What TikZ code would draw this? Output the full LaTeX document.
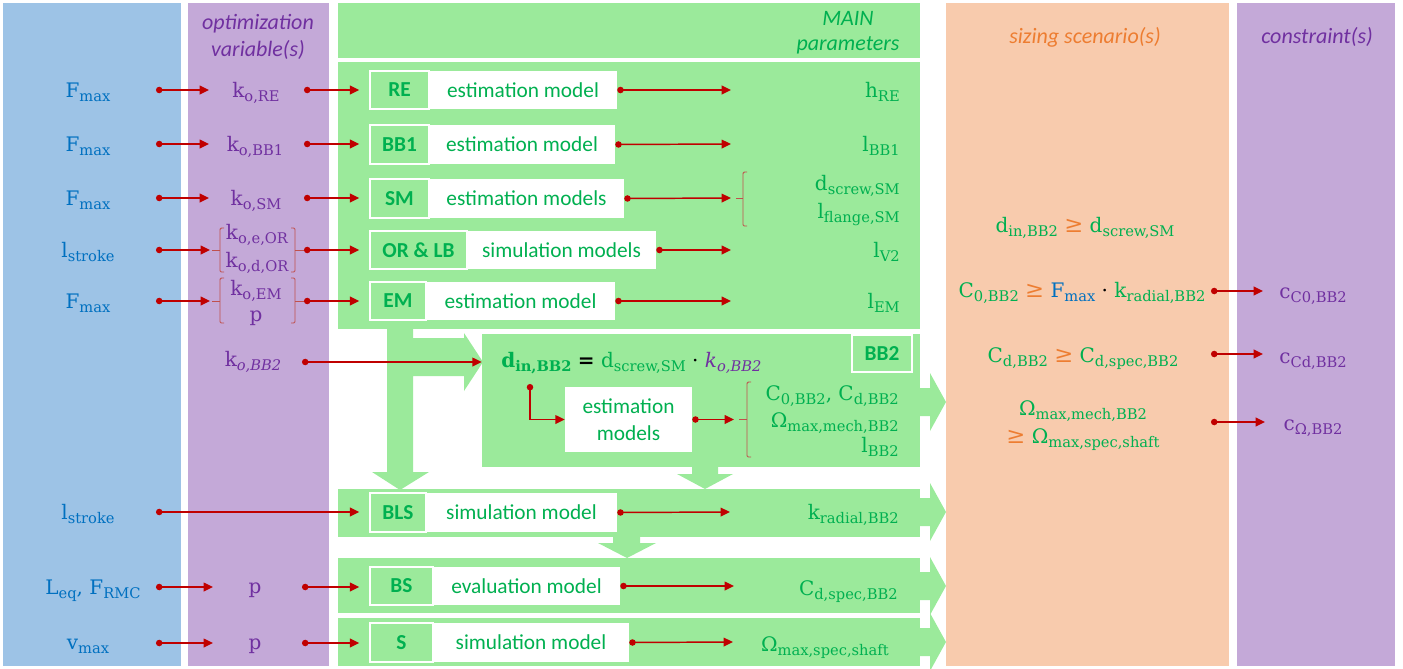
\documentclass[tikz,border=0pt]{standalone}
\usepackage{fontspec}
\setmainfont{DejaVu Serif}
\newfontfamily\carlito{Carlito}
\usetikzlibrary{arrows.meta,fit}

\definecolor{bgblue}{HTML}{9DC3E6}
\definecolor{bgpurple}{HTML}{C4A9D8}
\definecolor{bggreen}{HTML}{9BEA9B}
\definecolor{bgorange}{HTML}{F8CBAD}
\definecolor{tblue}{HTML}{0070C0}
\definecolor{tpurple}{HTML}{7030A0}
\definecolor{tgreen}{HTML}{00B050}
\definecolor{torange}{HTML}{ED7D31}
\definecolor{cred}{HTML}{C00000}
\definecolor{cbrack}{HTML}{C0504D}

% lowered subscript at three quarters of the body size
\newcommand\sub[1]{\raisebox{-3.4pt}{\fontsize{11}{13}\selectfont #1}}
% variable with upright subscript
\newcommand\vs[2]{#1\sub{#2}}
\newcommand\gq{\textcolor{torange}{\fontsize{17}{18}\selectfont ≥}}

% model row: green label box + white text box
% #1 name, #2 x-left, #3 y-top, #4 x-split, #5 x-right, #6 y-bottom, #7 label, #8 text
\newcommand\modelrow[8]{%
  \node[wbox, fit={(#4,#3)(#5,#6)}] (#1t) {};
  \node[wtext] (#1tx) at (#1t.center) {#8};
  \node[lbox, fit={(#2,#3)(#4,#6)}] (#1) {};
  \node[ltext] (#1lx) at (#1.center) {#7};}

% block arrow leaving a green band to the right
\newcommand\sidearrow[1]{%
  \fill[bggreen] (919,#1-14) -- (930,#1-14) -- (930,#1-29) -- (946,#1)
    -- (930,#1+29) -- (930,#1+14) -- (919,#1+14) -- cycle;}

\tikzset{
  mathtxt/.style={font=\fontsize{15}{18}\selectfont, inner sep=0pt, anchor=base},
  invar/.style={mathtxt, text=tblue},
  optvar/.style={mathtxt, text=tpurple},
  param/.style={mathtxt, text=tgreen, anchor=base east},
  scen/.style={mathtxt, text=tgreen},
  cstr/.style={mathtxt, text=tpurple},
  colhead/.style={font=\carlito\itshape\fontsize{16.5}{19}\selectfont, inner sep=0pt, anchor=base},
  lbox/.style={fill=bggreen, draw=white, line width=1.1pt, inner sep=0pt},
  ltext/.style={inner sep=0pt, text=tgreen, font=\carlito\bfseries\fontsize{16}{19}\selectfont},
  wbox/.style={fill=white, inner sep=0pt},
  wtext/.style={inner sep=0pt, text=tgreen, align=center,
    font=\carlito\fontsize{16}{20}\selectfont},
  conn/.style={draw=cred, line width=1.1pt,
    {Circle[length=4.8pt]}-{Triangle[length=7pt,width=6.5pt]}},
  brack/.style={draw=cbrack, line width=0.7pt, rounded corners=1pt},
}

\begin{document}
\begin{tikzpicture}[x=0.75pt, y=-0.75pt]
\useasboundingbox (0,0) rectangle (1403,668);

% ---- column backgrounds ----
\fill[bgblue]   (3,3)    rectangle (181,666);
\fill[bgpurple] (188,3)  rectangle (329,666);
\fill[bggreen]  (338,3)  rectangle (920,58);
\fill[bggreen]  (338,62) rectangle (920,329);
\node[fill=bggreen, inner sep=0pt, fit={(482,334)(920,467)}] (bbblk) {};
\fill[bggreen]  (338,489) rectangle (920,537);
\fill[bggreen]  (338,558) rectangle (920,613);
\fill[bggreen]  (338,618) rectangle (920,666);
\fill[bgorange] (946,3)  rectangle (1229,666);
\fill[bgpurple] (1237,3) rectangle (1395,666);

% ---- block arrows ----
\fill[bggreen] (387,329) -- (413,329) -- (413,338) -- (464,338) -- (464,333)
  -- (483,362) -- (464,391) -- (464,376) -- (413,376) -- (413,472) -- (429,472)
  -- (400,490) -- (372,472) -- (387,472) -- cycle;
\fill[bggreen] (692,467) -- (718,467) -- (718,474) -- (733,474) -- (705,489)
  -- (677,474) -- (692,474) -- cycle;
\fill[bggreen] (613,537) -- (640,537) -- (640,543) -- (656,543) -- (627,558)
  -- (598,543) -- (613,543) -- cycle;
\sidearrow{402}
\sidearrow{512}
\sidearrow{586}
\sidearrow{642}

% ---- column headings ----
\node[colhead, text=tpurple] (hopta) at (258,29) {optimization};
\node[colhead, text=tpurple] (hoptb) at (258,56) {variable(s)};
\node[colhead, text=tgreen]  (hmaina) at (848,25) {MAIN};
\node[colhead, text=tgreen]  (hmainb) at (848,50) {parameters};
\node[colhead, text=torange] (hsize) at (1085,43) {sizing scenario(s)};
\node[colhead, text=tpurple] (hcons) at (1317,43) {constraint(s)};

% ---- models ----
\modelrow{re}{370}{71}{429}{617}{109}{RE}{estimation model}
\modelrow{bbo}{370}{125}{429}{615}{164}{BB1}{estimation model}
\modelrow{sm}{370}{179}{429}{624}{218}{SM}{estimation models}
\modelrow{or}{370}{231}{467}{656}{269}{OR \& LB}{simulation models}
\modelrow{em}{370}{282}{426}{615}{320}{EM}{estimation model}
\modelrow{bls}{370}{493}{426}{617}{532}{BLS}{simulation model}
\modelrow{bs}{370}{567}{433}{620}{605}{BS}{evaluation model}
\modelrow{sh}{370}{623}{433}{629}{662}{S}{simulation model}
\node[lbox, fit={(852,335)(912,372)}] (bbtwo) {};
\node[ltext] (bbtwolx) at (bbtwo.center) {BB2};
\node[wbox, fit={(565,387)(692,452)}] (bbest) {};
\node[wtext] (bbesttx) at (bbest.center) {estimation\\models};

% ---- inputs ----
\node[invar] (ina) at (88,97)  {\vs{F}{max}};
\node[invar] (inb) at (88,151) {\vs{F}{max}};
\node[invar] (inc) at (88,205) {\vs{F}{max}};
\node[invar] (ind) at (88,257) {\vs{l}{stroke}};
\node[invar] (ine) at (88,308) {\vs{F}{max}};
\node[invar] (inf) at (88,519) {\vs{l}{stroke}};
\node[invar] (ing) at (93,594) {\vs{L}{eq}, \vs{F}{RMC}};
\node[invar] (inh) at (88,649) {\vs{v}{max}};

% ---- optimization variables ----
\node[optvar] (koa) at (256,97)  {\vs{k}{o,RE}};
\node[optvar] (kob) at (255,151) {\vs{k}{o,BB1}};
\node[optvar] (koc) at (256,205) {\vs{k}{o,SM}};
\node[optvar] (kod) at (257,239) {\vs{k}{o,e,OR}};
\node[optvar] (koe) at (257,267) {\vs{k}{o,d,OR}};
\node[optvar] (kof) at (256,295) {\vs{k}{o,EM}};
\node[optvar] (pa)  at (256,321) {p};
\node[optvar] (kog) at (253,366) {\vs{k}{\itshape o,BB2}};
\node[optvar] (pb)  at (255,593) {p};
\node[optvar] (pc)  at (255,649) {p};

% ---- main parameters ----
\node[param] (pra) at (900,97)  {\vs{h}{RE}};
\node[param] (prb) at (900,151) {\vs{l}{BB1}};
\node[param] (prc) at (900,190) {\vs{d}{screw,SM}};
\node[param] (prd) at (900,218) {\vs{l}{flange,SM}};
\node[param] (pre) at (900,257) {\vs{l}{V2}};
\node[param] (prf) at (900,308) {\vs{l}{EM}};
\node[param] (prg) at (899,400) {\vs{C}{0,BB2}, \vs{C}{d,BB2}};
\node[param] (prh) at (899,427) {\vs{Ω}{max,mech,BB2}};
\node[param] (pri) at (899,452) {\vs{l}{BB2}};
\node[param] (prj) at (899,519) {\vs{k}{radial,BB2}};
\node[param] (prk) at (898,595) {\vs{C}{d,spec,BB2}};
\node[param] (prl) at (889,651) {\vs{Ω}{max,spec,shaft}};
\node[mathtxt, anchor=base west, text=tgreen] (eqin) at (501,367)
  {\textbf{\vs{d}{in,BB2}} \textcolor{black}{\textbf{=}} \vs{d}{screw,SM}
   \textcolor{black}{·} \textcolor{tpurple}{\vs{\textit{k}}{\itshape o,BB2}}};

% ---- sizing scenarios ----
\node[scen] (sca) at (1085,232) {\vs{d}{in,BB2} \gq{} \vs{d}{screw,SM}};
\node[scen] (scb) at (1082,297) {\vs{C}{0,BB2} \gq{} \textcolor{tblue}{\vs{F}{max}}
  \textcolor{black}{·} \vs{k}{radial,BB2}};
\node[scen] (scc) at (1083,362) {\vs{C}{d,BB2} \gq{} \vs{C}{d,spec,BB2}};
\node[scen] (scd) at (1083,415) {\vs{Ω}{max,mech,BB2}};
\node[scen] (sce) at (1083,443) {\gq{} \vs{Ω}{max,spec,shaft}};

% ---- constraints ----
\node[cstr] (csa) at (1313,298) {\vs{c}{C0,BB2}};
\node[cstr] (csb) at (1313,363) {\vs{c}{Cd,BB2}};
\node[cstr] (csc) at (1313,430) {\vs{c}{Ω,BB2}};

% ---- brackets ----
\draw[brack] (224,228) -- (220,228) -- (220,272) -- (224,272);
\draw[brack] (212,250) -- (220,250);
\draw[brack] (291,228) -- (295,228) -- (295,272) -- (291,272);
\draw[brack] (295,250) -- (305,250);
\draw[brack] (224,278) -- (220,278) -- (220,323) -- (224,323);
\draw[brack] (212,301) -- (220,301);
\draw[brack] (291,278) -- (295,278) -- (295,323) -- (291,323);
\draw[brack] (295,301) -- (305,301);
\draw[brack] (747,172) -- (743,172) -- (743,226) -- (747,226);
\draw[brack] (736,198) -- (743,198);
\draw[brack] (751,382) -- (747,382) -- (747,457) -- (751,457);
\draw[brack] (739,419) -- (747,419);

% ---- connectors: inputs -> optimization variables ----
\coordinate (ia) at (156,90);  \coordinate (ta) at (209,90);
\coordinate (ib) at (156,144); \coordinate (tb) at (209,144);
\coordinate (ic) at (156,198); \coordinate (tc) at (209,198);
\coordinate (id) at (156,250); \coordinate (td) at (210,250);
\coordinate (ie) at (156,301); \coordinate (te) at (210,301);
\coordinate (ig) at (156,587); \coordinate (tg) at (213,587);
\coordinate (ih) at (156,643); \coordinate (th) at (213,643);
\foreach \s/\t in {ia/ta, ib/tb, ic/tc, id/td, ie/te, ig/tg, ih/th}
  \draw[conn] (\s) -- (\t);

% ---- connectors: optimization variables -> models ----
\coordinate (oa) at (304,90);
\coordinate (ob) at (304,144);
\coordinate (oc) at (304,198);
\coordinate (od) at (304,250);
\coordinate (oe) at (304,301);
\coordinate (og) at (302,587);
\coordinate (oh) at (302,643);
\foreach \s/\t in {oa/re, ob/bbo, oc/sm, od/or, oe/em, og/bs, oh/sh}
  \draw[conn, shorten >=7.5pt] (\s) -- (\s -| \t.west);
\coordinate (lf) at (156,512);
\draw[conn, shorten >=7.5pt] (lf) -- (lf -| bls.west);
\coordinate (kb) at (302,362);
\draw[conn] (kb) -- (kb -| bbblk.west);

% ---- connectors: models -> parameters ----
\coordinate (ma) at (731,90);
\coordinate (mb) at (731,144);
\coordinate (mc) at (731,198);
\coordinate (md) at (731,250);
\coordinate (me) at (731,301);
\coordinate (mf) at (730,512);
\coordinate (mg) at (734,586);
\coordinate (mh) at (733,642);
\coordinate (mi) at (734,419.5);
\foreach \s/\t in {ret/ma, bbot/mb, smt/mc, ort/md, emt/me, blst/mf, bst/mg, sht/mh, bbest/mi}
  \draw[conn] (\s.east) -- (\t);
\coordinate (dn) at (530,384);
\draw[conn] (dn) |- (bbest.west);

% ---- connectors: scenarios -> constraints ----
\coordinate (sa) at (1211,291); \coordinate (ua) at (1263,291);
\coordinate (sb) at (1211,354); \coordinate (ub) at (1263,354);
\coordinate (sc) at (1211,422); \coordinate (uc) at (1265,422);
\foreach \s/\t in {sa/ua, sb/ub, sc/uc}
  \draw[conn] (\s) -- (\t);
\end{tikzpicture}
\end{document}
